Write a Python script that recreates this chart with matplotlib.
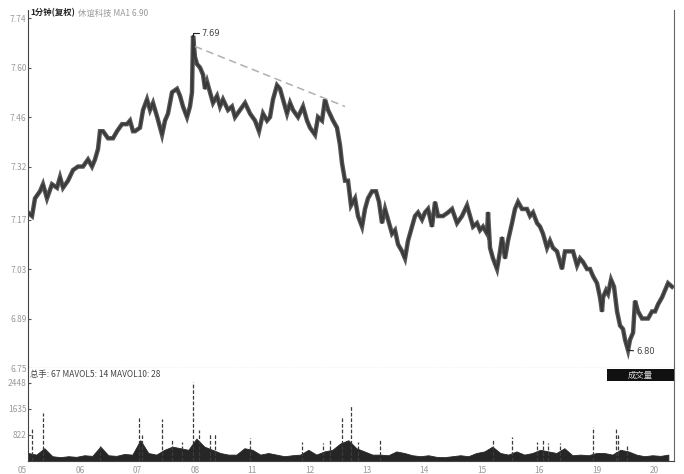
import numpy as np
import matplotlib
matplotlib.use("Agg")
import matplotlib.pyplot as plt
from matplotlib.patches import Rectangle

plt.rcParams['font.family'] = ['Noto Sans CJK SC', 'DejaVu Sans']

# 1-minute price, time in trading days since the 05 open
price_t = [0.094, 0.164, 0.216, 0.303, 0.355, 0.425, 0.512, 0.599, 0.652, 0.704,
           0.791, 0.878, 0.965, 1.052, 1.139, 1.209, 1.261, 1.314, 1.348, 1.401,
           1.488, 1.575, 1.645, 1.732, 1.819, 1.871, 1.923, 1.958, 2.045, 2.098,
           2.167, 2.220, 2.272, 2.345, 2.429, 2.481, 2.533, 2.603, 2.690, 2.742,
           2.794, 2.864, 2.916, 2.951, 2.969, 3.003, 3.038, 3.091, 3.143, 3.178,
           3.213, 3.265, 3.317, 3.387, 3.439, 3.491, 3.578, 3.648, 3.700, 3.787,
           3.875, 3.962, 4.049, 4.118, 4.188, 4.258, 4.310, 4.362, 4.432, 4.484,
           4.537, 4.606, 4.659, 4.711, 4.798, 4.885, 4.955, 5.007, 5.094, 5.146,
           5.216, 5.268, 5.321, 5.408, 5.477, 5.530, 5.564, 5.617, 5.669, 5.721,
           5.791, 5.843, 5.913, 5.965, 6.017, 6.087, 6.157, 6.209, 6.261, 6.314,
           6.366, 6.436, 6.488, 6.540, 6.610, 6.662, 6.714, 6.784, 6.836, 6.889,
           6.958, 7.010, 7.063, 7.132, 7.185, 7.237, 7.324, 7.411, 7.481, 7.568,
           7.655, 7.742, 7.794, 7.847, 7.916, 7.969, 8.021, 8.091, 8.108, 8.143,
           8.195, 8.265, 8.317, 8.352, 8.404, 8.456, 8.526, 8.578, 8.631, 8.700,
           8.787, 8.840, 8.892, 8.962, 9.014, 9.066, 9.136, 9.188, 9.240, 9.310,
           9.397, 9.449, 9.502, 9.589, 9.659, 9.711, 9.763, 9.833, 9.885, 9.937,
           10.007, 10.059, 10.094, 10.112, 10.164, 10.199, 10.251, 10.303, 10.356, 10.408,
           10.460, 10.495, 10.547, 10.582, 10.635, 10.669, 10.722, 10.791, 10.843, 10.896,
           10.965, 11.018, 11.070, 11.140, 11.192, 11.244, 11.314]
price_v = [7.19, 7.18, 7.23, 7.25, 7.27, 7.23, 7.27, 7.26, 7.29, 7.26,
           7.28, 7.31, 7.32, 7.32, 7.34, 7.32, 7.34, 7.37, 7.42, 7.42,
           7.40, 7.40, 7.42, 7.44, 7.44, 7.45, 7.42, 7.42, 7.43, 7.48,
           7.51, 7.48, 7.50, 7.46, 7.41, 7.45, 7.47, 7.53, 7.54, 7.52,
           7.49, 7.46, 7.49, 7.53, 7.69, 7.63, 7.61, 7.60, 7.58, 7.54,
           7.56, 7.53, 7.50, 7.52, 7.49, 7.51, 7.48, 7.49, 7.46, 7.48,
           7.50, 7.47, 7.45, 7.42, 7.47, 7.45, 7.46, 7.51, 7.55, 7.54,
           7.51, 7.47, 7.50, 7.48, 7.46, 7.49, 7.45, 7.43, 7.41, 7.46,
           7.45, 7.51, 7.48, 7.45, 7.43, 7.38, 7.33, 7.28, 7.28, 7.21,
           7.23, 7.18, 7.15, 7.20, 7.23, 7.25, 7.25, 7.22, 7.16, 7.20,
           7.17, 7.13, 7.14, 7.10, 7.08, 7.06, 7.11, 7.15, 7.18, 7.19,
           7.17, 7.19, 7.20, 7.15, 7.22, 7.18, 7.18, 7.19, 7.20, 7.16,
           7.18, 7.21, 7.18, 7.15, 7.16, 7.14, 7.15, 7.13, 7.19, 7.09,
           7.06, 7.03, 7.08, 7.12, 7.06, 7.11, 7.16, 7.20, 7.22, 7.20,
           7.20, 7.18, 7.19, 7.16, 7.15, 7.13, 7.09, 7.11, 7.09, 7.08,
           7.03, 7.08, 7.08, 7.08, 7.04, 7.06, 7.05, 7.03, 7.03, 7.01,
           6.99, 6.95, 6.91, 6.95, 6.97, 6.96, 7.00, 6.98, 6.91, 6.87,
           6.86, 6.83, 6.80, 6.83, 6.85, 6.94, 6.91, 6.89, 6.89, 6.89,
           6.91, 6.91, 6.93, 6.95, 6.97, 6.99, 6.98]

# down-trend line from the 08 high
trend_t = [3.003, 5.617]
trend_v = [7.66, 7.49]

# volume: background level and the single-minute spikes
base_vol = [250, 200, 400, 150, 120, 150, 130, 180, 160, 450,
            180, 160, 220, 200, 650, 250, 200, 350, 450, 400,
            350, 700, 450, 350, 250, 200, 200, 400, 350, 200,
            250, 200, 150, 180, 200, 350, 200, 300, 350, 550,
            650, 400, 300, 200, 200, 180, 300, 250, 180, 150,
            180, 130, 120, 150, 180, 150, 250, 300, 450, 250,
            200, 300, 200, 250, 350, 300, 250, 400, 180, 200,
            180, 250, 250, 200, 350, 300, 200, 150, 180, 160, 200]
spike_t = [0.164, 0.355, 1.348, 2.028, 2.080, 2.429, 2.603, 2.777, 2.969, 3.073,
           3.265, 3.352, 3.962, 4.868, 5.234, 5.356, 5.564, 5.721, 5.843, 6.226,
           8.195, 8.526, 8.962, 9.066, 9.153, 9.362, 9.937, 10.338, 10.373, 10.530]
spike_v = [1032, 1500, 500, 1376, 813, 1313, 657, 594, 2470, 970,
           875, 875, 720, 600, 560, 650, 1376, 1750, 600, 657,
           657, 750, 600, 650, 560, 560, 1063, 1032, 813, 500]

day_labels = ['05', '06', '07', '08', '11', '12', '13', '14', '15', '16', '19', '20']
price_ticks = ['6.75', '6.89', '7.03', '7.17', '7.32', '7.46', '7.60', '7.74']
vol_ticks = [822, 1635, 2448]

title_main = '1分钟(复权)'
title_rest = '休谊科技 MA1 6.90'
vol_title = '总手: 67 MAVOL5: 14 MAVOL10: 28'

W, H = 684, 474
fig = plt.figure(figsize=(W / 100, H / 100), dpi=100)
fig.patch.set_facecolor('white')

ax = fig.add_axes([28 / W, 1 - 368 / H, 646 / W, 358 / H])
axv = fig.add_axes([28 / W, 1 - 461 / H, 646 / W, 93 / H], sharex=ax)

XL = (0.094, 11.348)
GRAY = '#9a9a9a'
LINE = '#383838'

# price panel
ax.plot(price_t, price_v, color='#555555', lw=3.2, solid_joinstyle='miter')
ax.plot(price_t, price_v, color=LINE, lw=1.4)
ax.plot(trend_t, trend_v, color='#b0b0b0', lw=1.1, ls=(0, (5, 3)))
ax.set_xlim(*XL)
ax.set_ylim(6.75, 7.763)
ax.set_yticks([float(s) for s in price_ticks])
ax.set_yticklabels(price_ticks)
ax.tick_params(axis='y', direction='in', length=2, labelsize=6, labelcolor=GRAY,
               color='#555', pad=1)
ax.tick_params(axis='x', length=0, labelbottom=False)
ax.spines['top'].set_visible(False)
ax.spines['bottom'].set_linestyle((0, (3, 2)))
ax.spines['bottom'].set_color('#888')
ax.spines['left'].set_color('#444')
ax.spines['right'].set_color('#666')

i_hi = int(np.argmax(price_v))
i_lo = int(np.argmin(price_v))
ax.annotate(f'{price_v[i_hi]:.2f}', xy=(price_t[i_hi], price_v[i_hi]),
            xytext=(6, 2), textcoords='offset points', fontsize=6, color='#444',
            va='center', family=['DejaVu Sans'],
            arrowprops=dict(arrowstyle='-', color='#222', lw=0.8,
                            connectionstyle='angle,angleA=0,angleB=90,rad=0',
                            shrinkA=0, shrinkB=0))
ax.annotate(f'{price_v[i_lo]:.2f}', xy=(price_t[i_lo], price_v[i_lo]),
            xytext=(6, -1), textcoords='offset points', fontsize=6, color='#444',
            va='center', family=['DejaVu Sans'],
            arrowprops=dict(arrowstyle='-', color='#222', lw=0.8,
                            shrinkA=0, shrinkB=0))

fig.text(30 / W, 1 - 13 / H, title_main, fontsize=6, color='#222', va='center',
         fontweight='bold')
fig.text(78 / W, 1 - 13 / H, title_rest, fontsize=6, color='#999', va='center')

# volume panel
vol_t = np.linspace(0.10, 11.25, len(base_vol))
axv.fill_between(vol_t, 0, base_vol, color='#262626', lw=0.6, edgecolor='#262626')
axv.vlines(spike_t, 0, spike_v, color='#3c3c3c', lw=0.9, linestyles=(0, (3, 1.5)))
axv.set_ylim(0, 2908)
axv.set_yticks(vol_ticks)
axv.set_yticklabels([str(v) for v in vol_ticks])
axv.tick_params(axis='y', direction='in', length=2, labelsize=6, labelcolor=GRAY,
                color='#555', pad=1)
axv.tick_params(axis='x', length=0, labelbottom=False)
axv.spines['top'].set_visible(False)
for s in ['left', 'bottom']:
    axv.spines[s].set_color('#444')
axv.spines['right'].set_color('#666')

for k, lab in enumerate(day_labels):
    axv.text(k, -0.05, lab, transform=axv.get_xaxis_transform(), ha='center',
             va='top', fontsize=6, color=GRAY, clip_on=False)

fig.text(30 / W, 1 - 375 / H, vol_title, fontsize=6, color='#444', va='center')
fig.add_artist(Rectangle((607 / W, 1 - 381 / H), 67 / W, 12 / H,
                         transform=fig.transFigure, color='#111', lw=0))
fig.text(640 / W, 1 - 375 / H, '成交量', fontsize=6, color='#ddd', ha='center',
         va='center')

fig.savefig('out.png', dpi=100)
